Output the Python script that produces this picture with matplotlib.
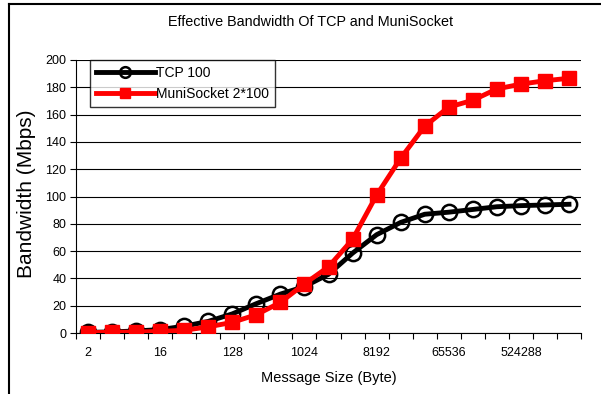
import numpy as np
import matplotlib.pyplot as plt
from matplotlib.lines import Line2D

plt.rcParams['font.family'] = ['Liberation Sans', 'DejaVu Sans']

# message sizes 2^1 .. 2^21
sizes = [2 ** k for k in range(1, 22)]
tick_labels = ['2', '16', '128', '1024', '8192', '65536', '524288']
tcp = [0.5, 0.8, 1.5, 2.5, 5.0, 8.5, 14.0, 21.5, 28.5, 34.0, 43.0, 58.5,
       72.0, 81.0, 87.0, 88.5, 90.5, 92.5, 93.3, 93.8, 94.3]
muni = [0.3, 0.5, 0.7, 1.2, 2.0, 4.5, 7.8, 13.4, 22.4, 36.0, 48.5, 68.6,
        101.0, 128.0, 151.5, 165.5, 170.5, 178.8, 182.3, 184.8, 186.6]

fig = plt.figure(figsize=(6.01, 3.94), dpi=100)
ax = fig.add_axes([76 / 601, 1 - 333 / 394, 505 / 601, 273 / 394])

x = np.arange(len(sizes))
ax.plot(x, tcp, color='black', lw=3.5, marker='o', ms=11, mfc='none',
        mec='black', mew=1.8, label='TCP 100', zorder=3)
ax.plot(x, muni, color='red', lw=3.5, marker='s', ms=10, mfc='red',
        mec='red', label='MuniSocket 2*100', zorder=4)

ax.set_xlim(-0.5, len(sizes) - 0.5)
ax.set_ylim(0, 200)
ax.set_yticks(np.arange(0, 201, 20))
ax.yaxis.grid(True, color='black', lw=0.8)
ax.set_axisbelow(True)

ax.set_xticks(np.arange(0, len(sizes), 3))
ax.set_xticklabels(tick_labels)
ax.set_xticks(np.arange(-0.5, len(sizes)), minor=True)
ax.tick_params(axis='x', which='major', length=0, pad=10, labelsize=9)
ax.tick_params(axis='x', which='minor', length=4, width=0.8, direction='out')
ax.tick_params(axis='y', length=4, width=0.8, labelsize=9, pad=3)

for s in ['top', 'right']:
    ax.spines[s].set_visible(False)
ax.spines['left'].set_linewidth(0.8)
ax.spines['bottom'].set_linewidth(0.8)

ax.set_xlabel('Message Size (Byte)', fontsize=10.5, labelpad=9)
fig.text(27 / 601, 1 - 194 / 394, 'Bandwidth (Mbps)', rotation=90,
         ha='center', va='center', fontsize=15)
fig.text(311 / 601, 1 - 22 / 394, 'Effective Bandwidth Of TCP and MuniSocket',
         ha='center', va='center', fontsize=10.4)

leg = ax.legend(loc='upper left', bbox_to_anchor=(14 / 505, 1.0),
                fontsize=10, frameon=True, fancybox=False, handlelength=4.2,
                borderpad=0.45, labelspacing=0.5, handletextpad=0.1,
                markerscale=0.7, borderaxespad=0)
leg.get_frame().set_edgecolor('black')
leg.get_frame().set_linewidth(1.0)

# outer chart frame (top and left edges visible)
fig.add_artist(Line2D([9 / 601, 1], [1 - 4 / 394, 1 - 4 / 394], color='black', lw=1.5))
fig.add_artist(Line2D([9 / 601, 9 / 601], [0, 1 - 4 / 394], color='black', lw=1.5))

fig.savefig('out.png', dpi=100)
